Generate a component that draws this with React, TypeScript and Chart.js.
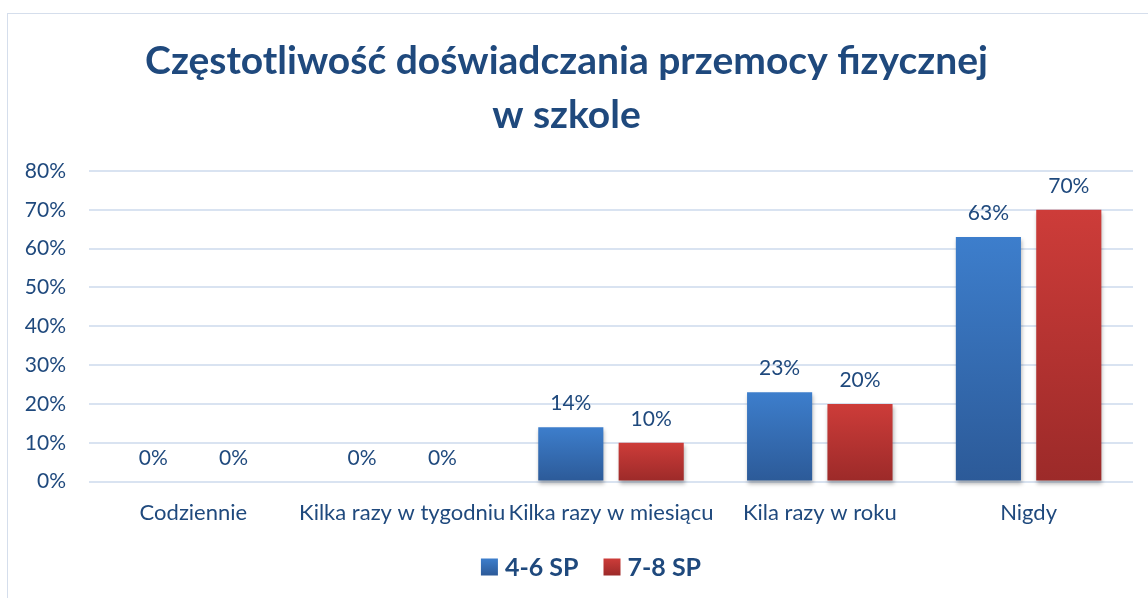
import React, { useEffect, useRef } from "react";
import { Chart, registerables } from "chart.js";

Chart.register(...registerables);

const categories = [
  "Codziennie",
  "Kilka razy w tygodniu",
  "Kilka razy w miesiącu",
  "Kila razy w roku",
  "Nigdy",
];
const series1Label = "4-6 SP";
const series2Label = "7-8 SP";
const series1Values = [0, 0, 14, 23, 63];
const series2Values = [0, 0, 10, 20, 70];
const yTicks = [0, 10, 20, 30, 40, 50, 60, 70, 80];
const titleLines = ["Częstotliwość doświadczania przemocy fizycznej", "w szkole"];

const FONT = "Lato, 'Open Sans', sans-serif";
const TEXT = "#1F497D";
const BLUE_TOP = "#3D7ECC";
const BLUE_BOT = "#2C5A98";
const RED_TOP = "#CD3C39";
const RED_BOT = "#9C2A29";

function gradientFill(top: string, bottom: string, fallback: string) {
  return (c: any) => {
    const chart = c.chart;
    const { ctx, chartArea, scales } = chart;
    if (!chartArea || c.type !== "data" || !scales.y) return fallback;
    const v = c.raw as number;
    const yTop = scales.y.getPixelForValue(v);
    const yBot = scales.y.getPixelForValue(0);
    if (yBot - yTop < 1) return fallback;
    const g = ctx.createLinearGradient(0, yTop, 0, yBot);
    g.addColorStop(0, top);
    g.addColorStop(1, bottom);
    return g;
  };
}

const shadowPlugin = {
  id: "barShadow",
  beforeDatasetsDraw(chart: any) {
    const ctx = chart.ctx;
    ctx.save();
    ctx.shadowColor = "rgba(0,0,0,0.28)";
    ctx.shadowBlur = 4;
    ctx.shadowOffsetX = 1;
    ctx.shadowOffsetY = 3;
  },
  afterDatasetsDraw(chart: any) {
    chart.ctx.restore();
  },
};

const labelPlugin = {
  id: "valueLabels",
  afterDatasetsDraw(chart: any) {
    const ctx = chart.ctx;
    ctx.save();
    ctx.font = `21px ${FONT}`;
    ctx.fillStyle = TEXT;
    ctx.textAlign = "center";
    ctx.textBaseline = "alphabetic";
    chart.data.datasets.forEach((ds: any, di: number) => {
      const meta = chart.getDatasetMeta(di);
      meta.data.forEach((bar: any, i: number) => {
        const v = ds.data[i] as number;
        ctx.fillText(`${Math.round(v)}%`, bar.x, bar.y - 17);
      });
    });
    ctx.restore();
  },
};

const legendPlugin = {
  id: "manualLegend",
  afterDraw(chart: any) {
    const ctx = chart.ctx;
    const items = [
      { label: chart.data.datasets[0].label, top: BLUE_TOP, bot: BLUE_BOT },
      { label: chart.data.datasets[1].label, top: RED_TOP, bot: RED_BOT },
    ];
    ctx.save();
    ctx.font = `bold 25px ${FONT}`;
    const box = 17;
    const gapText = 7;
    const gapItem = 25;
    const widths = items.map((it) => ctx.measureText(it.label).width);
    const total =
      widths.reduce((a, b) => a + b, 0) + items.length * (box + gapText) + gapItem * (items.length - 1);
    const cx = 591;
    const cy = 567;
    let x = cx - total / 2;
    items.forEach((it, i) => {
      const g = ctx.createLinearGradient(0, cy - box / 2, 0, cy + box / 2);
      g.addColorStop(0, it.top);
      g.addColorStop(1, it.bot);
      ctx.fillStyle = g;
      ctx.fillRect(x, cy - box / 2, box, box);
      x += box + gapText;
      ctx.fillStyle = TEXT;
      ctx.textAlign = "left";
      ctx.textBaseline = "middle";
      ctx.fillText(it.label, x, cy + 1);
      x += widths[i] + gapItem;
    });
    ctx.restore();
  },
};

export default function App() {
  const canvasRef = useRef<HTMLCanvasElement>(null);

  useEffect(() => {
    if (!canvasRef.current) return;
    const chart = new Chart(canvasRef.current, {
      type: "bar",
      data: {
        labels: categories,
        datasets: [
          {
            label: series1Label,
            data: series1Values,
            backgroundColor: gradientFill(BLUE_TOP, BLUE_BOT, "#3570B8"),
            categoryPercentage: 0.77,
            barPercentage: 0.81,
            clip: false as any,
          },
          {
            label: series2Label,
            data: series2Values,
            backgroundColor: gradientFill(RED_TOP, RED_BOT, "#B83432"),
            categoryPercentage: 0.77,
            barPercentage: 0.81,
            clip: false as any,
          },
        ],
      },
      options: {
        animation: false,
        responsive: true,
        maintainAspectRatio: false,
        layout: { padding: { left: 0, right: 15, top: 0, bottom: 54 } },
        plugins: {
          title: {
            display: true,
            text: titleLines,
            color: TEXT,
            font: { family: FONT, size: 39, weight: "bold", lineHeight: 1.385 },
            padding: { top: 34.5, bottom: 28.5 },
          },
          legend: { display: false },
          tooltip: { enabled: false },
        },
        scales: {
          x: {
            grid: { display: false, drawTicks: false },
            border: { display: false },
            ticks: {
              color: TEXT,
              font: { family: FONT, size: 22 },
              padding: 18,
              maxRotation: 0,
              autoSkip: false,
            },
          },
          y: {
            min: 0,
            max: 80,
            afterFit(scale: any) {
              scale.width = 89;
            },
            afterBuildTicks(scale: any) {
              scale.ticks = yTicks.map((v) => ({ value: v }));
            },
            grid: { color: "#D9E3F1", lineWidth: 2, drawTicks: false },
            border: { display: false },
            ticks: {
              color: TEXT,
              font: { family: FONT, size: 21 },
              padding: 23,
              callback: (v: any) => `${v}%`,
            },
          },
        },
      },
      plugins: [shadowPlugin, labelPlugin, legendPlugin],
    });
    return () => chart.destroy();
  }, []);

  return (
    <div style={{ position: "absolute", left: 0, top: 0, width: 1148, height: 598, background: "#fff" }}>
      <canvas ref={canvasRef} />
      <div
        style={{
          position: "absolute",
          left: 7,
          top: 13,
          width: 1150,
          height: 600,
          border: "1.5px solid #D5DEEC",
          pointerEvents: "none",
        }}
      />
    </div>
  );
}
